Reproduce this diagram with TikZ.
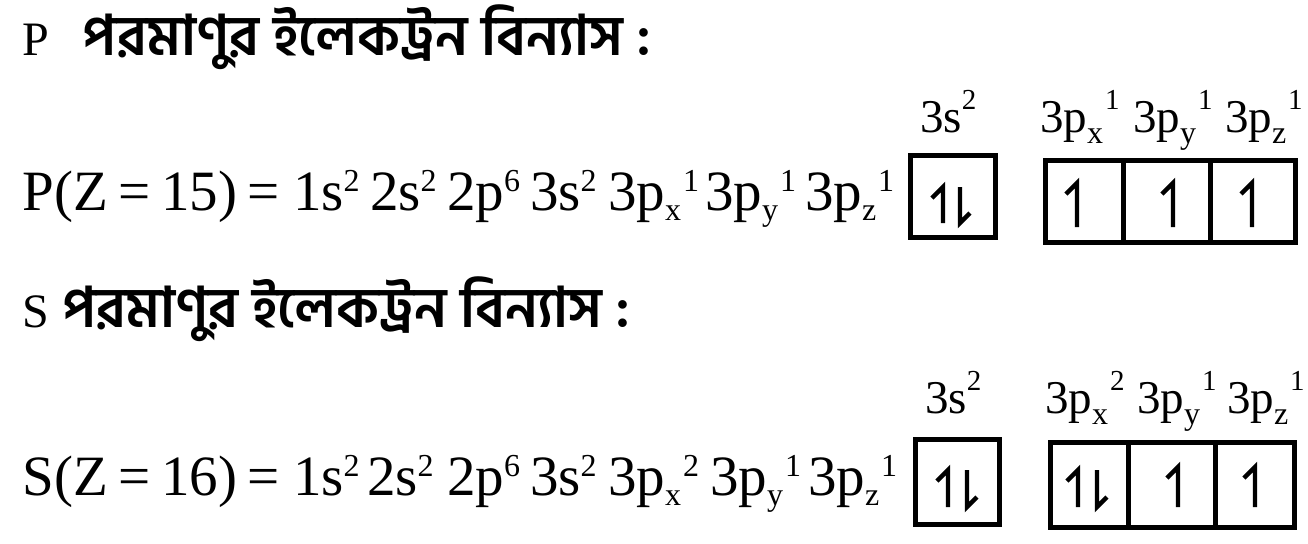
\documentclass[tikz,border=0pt]{standalone}
\usepackage{fontspec}
\setmainfont{Liberation Serif}
\newfontfamily\bn[Script=Bengali]{Hind Siliguri}
\newcommand\fsup[1]{\raisebox{9.5pt}{\fontsize{16}{16}\selectfont #1}}
\newcommand\fsub[1]{\raisebox{-5pt}{\fontsize{16}{16}\selectfont #1}}
\newcommand\lsup[1]{\raisebox{11.5pt}{\fontsize{14.5}{14.5}\selectfont #1}}
\newcommand\lsub[1]{\raisebox{-5.5pt}{\fontsize{16}{16}\selectfont #1}}
\newcommand\eqsp{\hspace{0.18em}}
\begin{document}
\begin{tikzpicture}[x=0.5pt,y=-0.5pt,
  every node/.style={inner sep=0pt, outer sep=0pt, anchor=base west},
  frm/.style={font=\fontsize{28.5}{28.5}\selectfont},
  lbl/.style={font=\fontsize{23.5}{23.5}\selectfont},
  ttl/.style={font=\fontsize{24}{24}\selectfont},
  bng/.style={font=\bn\bfseries\fontsize{28}{28}\selectfont},
  cell/.style={draw, line width=2.5pt, anchor=center},
  spin/.style={line width=2.2pt}]
\useasboundingbox[fill=white] (0,0) rectangle (1308,543);
% titles
\node[ttl] (t1a) at (23,55) {P};
\node[bng] (t1b) at (83,55) {পরমাণুর ইলেকট্রন বিন্যাস :};
\node[ttl] (t2a) at (23,327) {S};
\node[bng] (t2b) at (62,327) {পরমাণুর ইলেকট্রন বিন্যাস :};
% formula P
\node[frm] (f1a) at (23,210) {P(Z\eqsp=\eqsp15)\eqsp=};
\node[frm] (f1b) at (293,210) {1s\fsup{2}};
\node[frm] (f1c) at (370,210) {2s\fsup{2}};
\node[frm] (f1d) at (447,210) {2p\fsup{6}};
\node[frm] (f1e) at (530,210) {3s\fsup{2}};
\node[frm] (f1f) at (608,210) {3p\fsub{x}\kern1pt\fsup{1}};
\node[frm] (f1g) at (705,210) {3p\fsub{y}\kern1pt\fsup{1}};
\node[frm] (f1h) at (805,210) {3p\fsub{z}\kern1pt\fsup{1}};
% formula S
\node[frm] (f2a) at (23,495) {S(Z\eqsp=\eqsp16)\eqsp=};
\node[frm] (f2b) at (293,495) {1s\fsup{2}};
\node[frm] (f2c) at (367,495) {2s\fsup{2}};
\node[frm] (f2d) at (447,495) {2p\fsup{6}};
\node[frm] (f2e) at (530,495) {3s\fsup{2}};
\node[frm] (f2f) at (608,495) {3p\fsub{x}\kern1pt\fsup{2}};
\node[frm] (f2g) at (710,495) {3p\fsub{y}\kern1pt\fsup{1}};
\node[frm] (f2h) at (808,495) {3p\fsub{z}\kern1pt\fsup{1}};
% labels P
\node[lbl] (l1s) at (920,132) {3s\lsup{2}};
\node[lbl] (l1x) at (1040,132) {3p\lsub{x}\kern1pt\lsup{1}};
\node[lbl] (l1y) at (1133,132) {3p\lsub{y}\kern1pt\lsup{1}};
\node[lbl] (l1z) at (1225,132) {3p\lsub{z}\kern1pt\lsup{1}};
% labels S
\node[lbl] (l2s) at (925,413) {3s\lsup{2}};
\node[lbl] (l2x) at (1045,413) {3p\lsub{x}\kern1pt\lsup{2}};
\node[lbl] (l2y) at (1137,413) {3p\lsub{y}\kern1pt\lsup{1}};
\node[lbl] (l2z) at (1227,413) {3p\lsub{z}\kern1pt\lsup{1}};
% boxes P
\node[cell, minimum width=42.5pt, minimum height=41pt] (s1) at (953,196.5) {};
\node[cell, minimum width=38.75pt, minimum height=41pt] (p1x) at (1084.25,201.5) {};
\node[cell, minimum width=43.5pt, minimum height=41pt] (p1y) at (1166.5,201.5) {};
\node[cell, minimum width=42.75pt, minimum height=41pt] (p1z) at (1252.75,201.5) {};
% boxes S
\node[cell, minimum width=42pt, minimum height=42.5pt] (s2) at (957.5,482) {};
\node[cell, minimum width=38.75pt, minimum height=42.5pt] (p2x) at (1089.25,485) {};
\node[cell, minimum width=43.5pt, minimum height=42.5pt] (p2y) at (1171.5,485) {};
\node[cell, minimum width=39.75pt, minimum height=42.5pt] (p2z) at (1254.75,485) {};
% spins P
\draw[spin] (943,223) -- (943,187) -- ++(-11,11);
\draw[spin] (960,187) -- (960,223) -- ++(10,-10);
\draw[spin] (1077,227) -- (1077,183) -- ++(-11,11);
\draw[spin] (1173,227) -- (1173,183) -- ++(-11,11);
\draw[spin] (1252,227) -- (1252,183) -- ++(-11,11);
% spins S
\draw[spin] (948,507) -- (948,470) -- ++(-11,11);
\draw[spin] (967,470) -- (967,507) -- ++(10,-10);
\draw[spin] (1078,507) -- (1078,470) -- ++(-11,11);
\draw[spin] (1097,470) -- (1097,507) -- ++(10,-10);
\draw[spin] (1178,507) -- (1178,467) -- ++(-11,11);
\draw[spin] (1255,507) -- (1255,467) -- ++(-11,11);
\end{tikzpicture}
\end{document}
